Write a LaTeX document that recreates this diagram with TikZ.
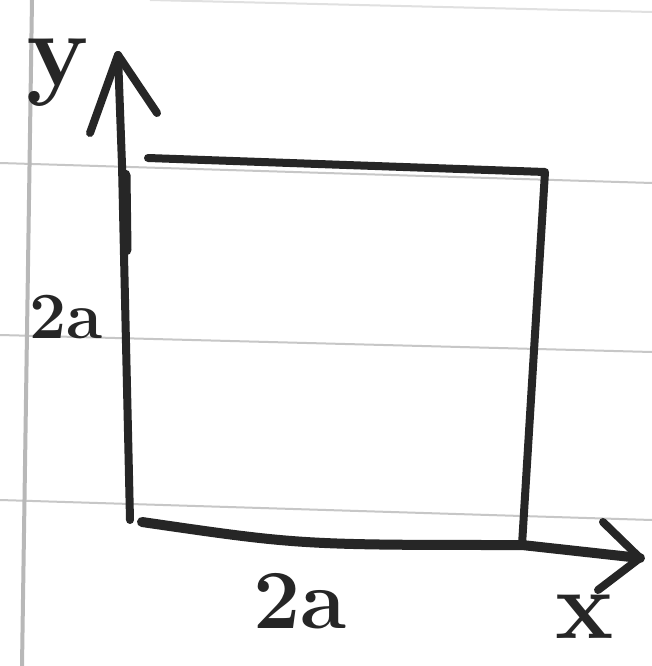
\documentclass[tikz,border=0pt]{standalone}
\begin{document}
\begin{tikzpicture}[x=1pt,y=-1pt,
  ruled/.style={draw=black!22, line width=2pt},
  pen/.style={draw=black!85, line width=8pt, line cap=round, line join=round},
  hand/.style={text=black!85, inner sep=0pt, font=\bfseries}]
\useasboundingbox (0,0) rectangle (652,666);
\fill[white] (0,0) rectangle (652,666);
% paper
\draw[ruled] (0,163) -- (652,183);
\draw[ruled] (0,335) -- (652,352);
\draw[ruled] (0,500) -- (652,520);
\draw[ruled, draw=black!12] (150,0) -- (652,12);
\draw[draw=black!28, line width=4pt] (32,0) -- (22,666);
% coordinates
\coordinate (O) at (130,520);
\coordinate (Ytip) at (118,55);
\coordinate (TL) at (148,158);
\coordinate (TR) at (545,172);
\coordinate (BR) at (522,545);
\coordinate (Xstart) at (142,522);
\coordinate (Xtip) at (640,558);
% y axis
\draw[pen] (O) -- (124,255) -- (122,165) -- (Ytip);
\draw[pen] (90,133) -- (Ytip) -- (157,113);
\draw[pen, line width=11pt] (125,175) -- (126,250);
% square
\draw[pen] (TL) -- (TR) -- (BR);
% x axis
\draw[pen, line width=10pt] (Xstart) .. controls (300,545) .. (BR) -- (Xtip);
\draw[pen] (603,522) -- (Xtip) -- (598,590);
% labels
\node[hand, font=\bfseries\fontsize{105}{105}\selectfont, anchor=base] (ylab) at (58,86) {y};
\node[hand, font=\bfseries\fontsize{66}{66}\selectfont, anchor=base] (a1) at (66,338) {2a};
\node[hand, font=\bfseries\fontsize{84}{84}\selectfont, anchor=base] (a2) at (300,628) {2a};
\node[hand, font=\bfseries\fontsize{98}{98}\selectfont, anchor=base] (xlab) at (585,638) {x};
\end{tikzpicture}
\end{document}
